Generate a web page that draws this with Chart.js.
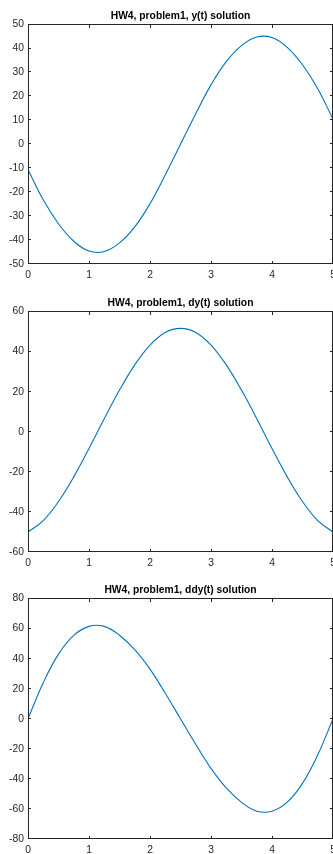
<!DOCTYPE html>
<html>
<head>
<meta charset="utf-8">
<script src="https://cdn.jsdelivr.net/npm/chart.js@4.4.0/dist/chart.umd.min.js"></script>
<style>
  html, body { margin: 0; padding: 0; background: #fff; overflow: hidden; }
  body { width: 333px; height: 854px; position: relative; }
  .panel { position: absolute; left: 0; width: 333px; height: 290px; }
</style>
</head>
<body>
<div class="panel" style="top:0px"><canvas id="yChart"></canvas></div>
<div class="panel" style="top:287px"><canvas id="dyChart"></canvas></div>
<div class="panel" style="top:574px"><canvas id="ddyChart"></canvas></div>
<script>
// time samples (s)
const tValues = [0, 0.25, 0.5, 0.75, 1, 1.25, 1.5, 1.75, 2, 2.25, 2.5,
                 2.75, 3, 3.25, 3.5, 3.75, 4, 4.25, 4.5, 4.75, 5];

// values
const yValues = [-10.5, -23.2, -33.2, -40.5, -44.6, -44.8, -41.2, -34.5, -24.8, -12.8, 0,
                 12.8, 24.8, 34.5, 41.2, 44.8, 44.6, 40.5, 33.2, 23.2, 10.5];
const dyValues = [-50, -44.3, -34.8, -22.5, -8.3, 6.5, 20.8, 33.4, 43.3, 49.6, 51.6,
                  49.6, 43.3, 33.4, 20.8, 6.5, -8.3, -22.5, -34.8, -44.3, -50];
const ddyValues = [0, 24, 43, 55.5, 61.5, 61.5, 55.6, 46, 33, 17, 0,
                   -17, -33, -46, -55.6, -61.5, -61.5, -55.5, -43, -24, 0];

const xTicks = [0, 1, 2, 3, 4, 5];
const yTicks = [-50, -40, -30, -20, -10, 0, 10, 20, 30, 40, 50];
const dyTicks = [-60, -40, -20, 0, 20, 40, 60];
const ddyTicks = [-80, -60, -40, -20, 0, 20, 40, 60, 80];

const titles = ['HW4, problem1, y(t) solution', 'HW4, problem1, dy(t) solution', 'HW4, problem1, ddy(t) solution'];

const axisColor = '#262626';
const lineColor = '#0072BD';
const fontFamily = '"Liberation Sans", Arial, Helvetica, sans-serif';

// matlab style box with inward ticks on all four sides
const boxPlugin = {
    id: 'matlabBox',
    afterDatasetsDraw(chart) {
        const { ctx, chartArea: a, scales } = chart;
        const len = 3;
        const L = Math.round(a.left), R = Math.round(a.right), T = Math.round(a.top), B = Math.round(a.bottom);
        ctx.save();
        ctx.strokeStyle = axisColor;
        ctx.lineWidth = 1;
        ctx.beginPath();
        scales.x.ticks.forEach(t => {
            const px = Math.round(scales.x.getPixelForValue(t.value)) + 0.5;
            ctx.moveTo(px, B); ctx.lineTo(px, B - len);
            ctx.moveTo(px, T); ctx.lineTo(px, T + len);
        });
        scales.y.ticks.forEach(t => {
            const py = Math.round(scales.y.getPixelForValue(t.value)) - 0.5;
            ctx.moveTo(L, py); ctx.lineTo(L + len, py);
            ctx.moveTo(R, py); ctx.lineTo(R - len, py);
        });
        ctx.stroke();
        ctx.strokeRect(L + 0.5, T - 0.5, R - L - 1, B - T);
        ctx.restore();
    }
};

function createPlot(id, title, values, ticks, bottomGap) {
    const ctx = document.getElementById(id).getContext('2d');
    return new Chart(ctx, {
        type: 'line',
        data: {
            datasets: [{
                data: tValues.map((t, i) => ({ x: t, y: values[i] })),
                borderColor: lineColor,
                borderWidth: 1.1,
                pointRadius: 0,
                tension: 0.4,
                fill: false
            }]
        },
        options: {
            responsive: false,
            animation: false,
            devicePixelRatio: 1,
            layout: { autoPadding: false, padding: 0 },
            plugins: {
                legend: { display: false },
                tooltip: { enabled: false },
                title: {
                    display: true,
                    fullSize: false,
                    text: title,
                    color: '#000',
                    font: { family: fontFamily, size: 10.3, weight: 'bold', lineHeight: 1.2 },
                    padding: { top: 9.8, bottom: 2.4 }
                }
            },
            scales: {
                x: {
                    type: 'linear',
                    min: 0, max: 5,
                    afterBuildTicks: s => { s.ticks = xTicks.map(v => ({ value: v })); },
                    afterFit: s => { s.height = bottomGap; s.paddingLeft = 0; s.paddingRight = 0; },
                    grid: { display: false, drawTicks: false },
                    border: { display: false },
                    ticks: { color: axisColor, padding: 4.5, maxRotation: 0, autoSkip: false,
                             font: { family: fontFamily, size: 10.3 } }
                },
                y: {
                    min: ticks[0], max: ticks[ticks.length - 1],
                    afterBuildTicks: s => { s.ticks = ticks.map(v => ({ value: v })); },
                    afterFit: s => { s.width = 28; s.paddingTop = 0; s.paddingBottom = 0; },
                    grid: { display: false, drawTicks: false },
                    border: { display: false },
                    ticks: { color: axisColor, padding: 4, autoSkip: false,
                             font: { family: fontFamily, size: 10.3 } }
                }
            }
        },
        plugins: [boxPlugin]
    });
}

[['yChart', yValues, yTicks, 26], ['dyChart', dyValues, dyTicks, 25], ['ddyChart', ddyValues, ddyTicks, 25]]
    .forEach(([id, vals, tk, gap], i) => {
        const c = document.getElementById(id);
        c.width = 333; c.height = 290;
        createPlot(id, titles[i], vals, tk, gap);
    });
</script>
</body>
</html>
